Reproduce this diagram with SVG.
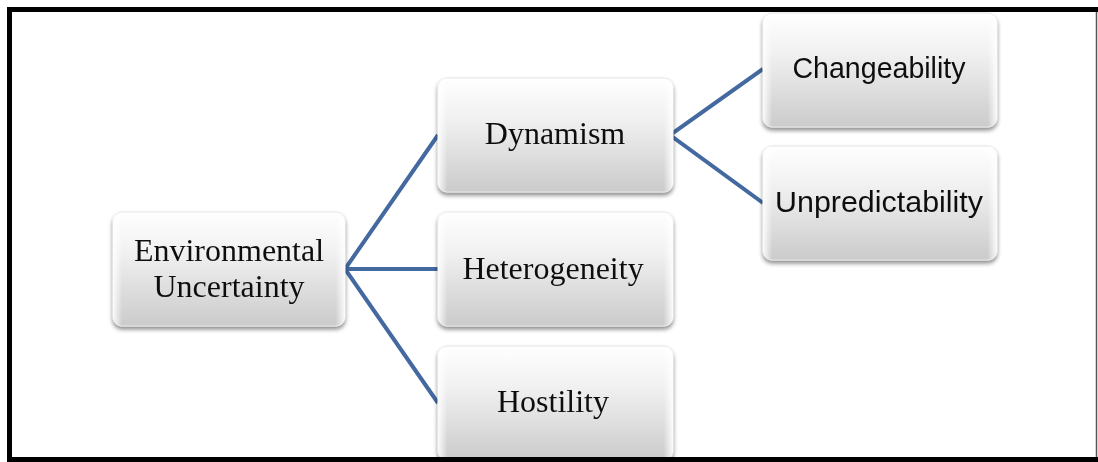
<svg xmlns="http://www.w3.org/2000/svg" width="1098" height="462" viewBox="0 0 1098 462">
  <defs>
    <linearGradient id="boxFill" x1="0" y1="0" x2="0" y2="1">
      <stop offset="0" stop-color="#ffffff"/>
      <stop offset="0.35" stop-color="#f1f1f1"/>
      <stop offset="1" stop-color="#cbcbcb"/>
    </linearGradient>
    <linearGradient id="sideGloss" x1="0" y1="0" x2="1" y2="0">
      <stop offset="0" stop-color="#ffffff" stop-opacity="0.9"/>
      <stop offset="0.04" stop-color="#ffffff" stop-opacity="0"/>
      <stop offset="0.96" stop-color="#ffffff" stop-opacity="0"/>
      <stop offset="1" stop-color="#ffffff" stop-opacity="0.9"/>
    </linearGradient>
    <filter id="shadow" x="-10%" y="-10%" width="120%" height="130%">
      <feGaussianBlur in="SourceAlpha" stdDeviation="2.2"/>
      <feOffset dx="0" dy="3" result="b"/>
      <feComponentTransfer><feFuncA type="linear" slope="0.45"/></feComponentTransfer>
      <feMerge><feMergeNode/><feMergeNode in="SourceGraphic"/></feMerge>
    </filter>
  </defs>
  <style>
    .box { fill: url(#boxFill); stroke: #e6e6e6; stroke-width: 1; }
    .gloss { fill: url(#sideGloss); }
    .serif { font-family: "Liberation Serif", "Times New Roman", serif; font-size: 32px; fill: #111; text-anchor: middle; }
    .sans { font-family: "Liberation Sans", Arial, sans-serif; font-size: 29px; fill: #111; text-anchor: middle; }
    .link { fill: none; stroke: #4369a0; stroke-width: 4; stroke-linejoin: miter; }
  </style>

  <rect x="0" y="0" width="1098" height="462" fill="#ffffff"/>

  <!-- connectors -->
  <g id="connectors">
    <path class="link" d="M438,135 L345,269 L438,403 M345,269 L438,269"/>
    <path class="link" d="M763,69 L670,135 L763,203"/>
  </g>

  <!-- nodes -->
  <g id="node-environmental-uncertainty" filter="url(#shadow)">
    <rect class="box" x="113" y="212" width="232" height="114" rx="9"/>
    <rect class="gloss" x="113" y="212" width="232" height="114" rx="9"/>
    <text class="serif" x="229" y="261">Environmental</text>
    <text class="serif" x="229" y="297">Uncertainty</text>
  </g>

  <g id="node-dynamism" filter="url(#shadow)">
    <rect class="box" x="438" y="78" width="235" height="114" rx="9"/>
    <rect class="gloss" x="438" y="78" width="235" height="114" rx="9"/>
    <text class="serif" x="555" y="144">Dynamism</text>
  </g>

  <g id="node-heterogeneity" filter="url(#shadow)">
    <rect class="box" x="438" y="212" width="235" height="114" rx="9"/>
    <rect class="gloss" x="438" y="212" width="235" height="114" rx="9"/>
    <text class="serif" x="553" y="279">Heterogeneity</text>
  </g>

  <g id="node-hostility" filter="url(#shadow)">
    <rect class="box" x="438" y="346" width="235" height="114" rx="9"/>
    <rect class="gloss" x="438" y="346" width="235" height="114" rx="9"/>
    <text class="serif" x="553" y="412">Hostility</text>
  </g>

  <g id="node-changeability" filter="url(#shadow)">
    <rect class="box" x="763" y="13" width="234" height="114" rx="9"/>
    <rect class="gloss" x="763" y="13" width="234" height="114" rx="9"/>
    <text class="sans" x="879" y="78" textLength="173" lengthAdjust="spacingAndGlyphs">Changeability</text>
  </g>

  <g id="node-unpredictability" filter="url(#shadow)">
    <rect class="box" x="763" y="146" width="234" height="114" rx="9"/>
    <rect class="gloss" x="763" y="146" width="234" height="114" rx="9"/>
    <text class="sans" x="879" y="212" textLength="208" lengthAdjust="spacingAndGlyphs">Unpredictability</text>
  </g>

  <!-- outer frame -->
  <path d="M9.5,462 L9.5,9.5 L1098,9.5" fill="none" stroke="#000" stroke-width="5"/>
  <path d="M7,459.5 L1098,459.5" fill="none" stroke="#000" stroke-width="5"/>
  <line x1="1096.5" y1="12" x2="1096.5" y2="457" stroke="#555" stroke-width="1.5"/>
</svg>
